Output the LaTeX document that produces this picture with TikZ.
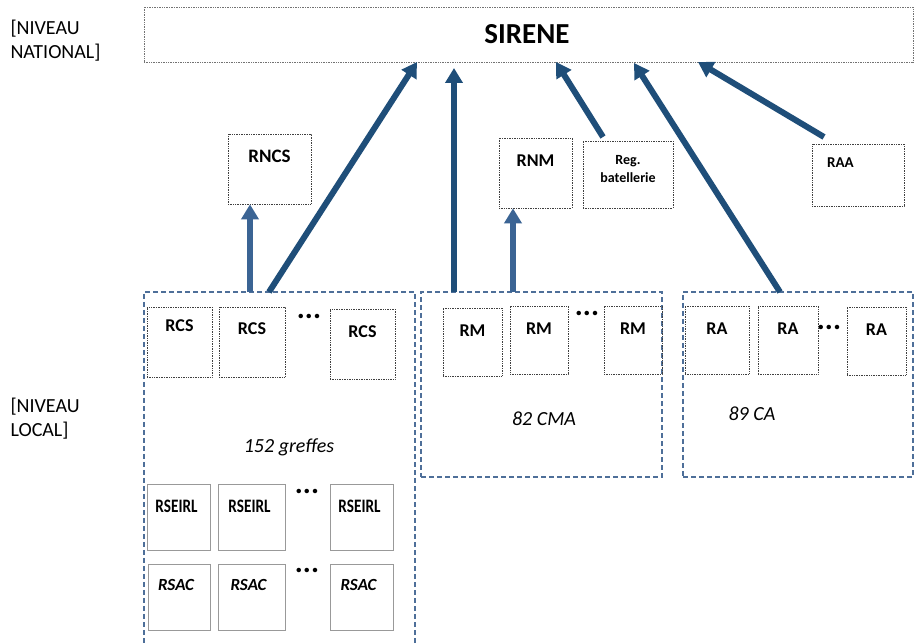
\documentclass[tikz,border=0pt]{standalone}
\usepackage{fontspec}
\setmainfont{Carlito}
\newfontfamily\narrowfont[FakeStretch=0.8]{Carlito}
\usetikzlibrary{arrows.meta}
\definecolor{arrowblue}{HTML}{1F4E79}
\definecolor{lightblue}{HTML}{3B6494}
\definecolor{groupblue}{HTML}{4E6F99}
\tikzset{
  reg/.style={draw=black!75,densely dotted,line width=0.7pt,inner sep=0pt},
  plainreg/.style={draw=black!40,line width=0.8pt,inner sep=0pt},
  group/.style={draw=groupblue,dash pattern=on 5pt off 3pt,line width=1.1pt,inner sep=0pt},
  tag/.style={anchor=north,yshift=-9pt,font=\bfseries\fontsize{18}{20}\selectfont},
  level/.style={anchor=west,align=left,font=\fontsize{20}{24}\selectfont},
  count/.style={font=\itshape\fontsize{20}{24}\selectfont},
  etc/.style={font=\bfseries\fontsize{30}{30}\selectfont,inner sep=0pt},
  flow/.style={->,arrowblue,line width=6pt},
  lightflow/.style={->,lightblue,line width=6.5pt}
}
\begin{document}
\begin{tikzpicture}[x=1pt,y=-1pt,>={Triangle[width=17pt,length=15pt]}]
\useasboundingbox (0,0) rectangle (914,644);

% niveau national
\node[level] (natl) at (7,41) {[NIVEAU\\NATIONAL]};
\node[reg,draw=black!55,minimum width=769pt,minimum height=55pt] (sirene) at (528.5,34.5) {};
\node[font=\bfseries\fontsize{29}{30}\selectfont] (sirenetxt) at (527,34) {SIRENE};

\node[reg,minimum width=83pt,minimum height=70pt,label={[tag,yshift=-4pt,font=\bfseries\fontsize{19}{20}\selectfont]north:RNCS}] (rncs) at (269.5,169) {};
\node[reg,minimum width=73pt,minimum height=70pt,label={[tag,yshift=-5pt]north:RNM}] (rnm) at (535.5,173) {};
\node[reg,minimum width=90pt,minimum height=67pt,
  label={[tag,yshift=-2pt,align=center,font=\bfseries\fontsize{14}{18}\selectfont]north:Reg.\\batellerie}] (regbat) at (628,174.5) {};
\node[reg,minimum width=92pt,minimum height=62pt,
  label={[tag,anchor=north west,xshift=12pt,yshift=-2pt,font=\bfseries\fontsize{15}{18}\selectfont]north west:RAA}] (raa) at (858,175) {};

% niveau local
\node[level] (local) at (7,419) {[NIVEAU\\LOCAL]};

\node[group,minimum width=271pt,minimum height=368pt] (grcs) at (279.5,476) {};
\node[group,minimum width=241pt,minimum height=185pt] (grm) at (541.5,384.5) {};
\node[group,minimum width=230pt,minimum height=185pt] (gra) at (798,384.5) {};

\node[reg,minimum width=65pt,minimum height=70pt,label={[tag,yshift=-1pt]north:RCS}] (rcs1) at (179.5,342) {};
\node[reg,minimum width=66pt,minimum height=70pt,label={[tag,yshift=-4pt]north:RCS}] (rcs2) at (252,342) {};
\node[etc] (rcsdots) at (309,316) {...};
\node[reg,minimum width=65pt,minimum height=70pt,label={[tag,yshift=-5pt]north:RCS}] (rcs3) at (362.5,344) {};

\node[reg,minimum width=59pt,minimum height=68pt,label={[tag,yshift=-5pt]north:RM}] (rm1) at (472.5,342) {};
\node[reg,minimum width=58pt,minimum height=68pt,label={[tag,yshift=-5pt]north:RM}] (rm2) at (539,340) {};
\node[etc] (rmdots) at (587,313) {...};
\node[reg,minimum width=58pt,minimum height=68pt,label={[tag,yshift=-5pt]north:RM}] (rm3) at (633,340) {};

\node[reg,minimum width=64pt,minimum height=68pt,label={[tag,yshift=-5pt]north:RA}] (ra1) at (717,340) {};
\node[reg,minimum width=60pt,minimum height=68pt,label={[tag,yshift=-5pt]north:RA}] (ra2) at (788,340) {};
\node[etc] (radots) at (829,327) {...};
\node[reg,minimum width=59pt,minimum height=68pt,label={[tag,yshift=-5pt]north:RA}] (ra3) at (876.5,341) {};

\node[count] (greffes) at (289,447) {152 greffes};
\node[count] (cma) at (544,419) {82 CMA};
\node[count] (ca) at (752,414) {89 CA};

\node[plainreg,minimum width=63pt,minimum height=66pt,label={[tag,yshift=-4pt,xshift=-2pt,font=\narrowfont\bfseries\fontsize{19}{20}\selectfont]north:RSEIRL}] (rse1) at (178.5,517) {};
\node[plainreg,minimum width=67pt,minimum height=66pt,label={[tag,yshift=-4pt,xshift=-2pt,font=\narrowfont\bfseries\fontsize{19}{20}\selectfont]north:RSEIRL}] (rse2) at (251.5,517) {};
\node[etc] (rsedots) at (307,491) {...};
\node[plainreg,minimum width=63pt,minimum height=66pt,label={[tag,yshift=-4pt,xshift=-2pt,font=\narrowfont\bfseries\fontsize{19}{20}\selectfont]north:RSEIRL}] (rse3) at (361.5,517) {};

\node[plainreg,minimum width=62pt,minimum height=66pt,label={[tag,yshift=-3pt,xshift=-3pt,font=\bfseries\itshape\fontsize{17}{20}\selectfont]north:RSAC}] (rsac1) at (179,597) {};
\node[plainreg,minimum width=67pt,minimum height=66pt,label={[tag,yshift=-3pt,xshift=-3pt,font=\bfseries\itshape\fontsize{17}{20}\selectfont]north:RSAC}] (rsac2) at (251.5,597) {};
\node[etc] (rsacdots) at (307,570) {...};
\node[plainreg,minimum width=63pt,minimum height=66pt,label={[tag,yshift=-3pt,xshift=-3pt,font=\bfseries\itshape\fontsize{17}{20}\selectfont]north:RSAC}] (rsac3) at (361.5,597) {};

% points de depart et d'arrivee des fleches
\coordinate (rcsA) at (250,292);
\coordinate (rcsB) at (269,292);
\coordinate (rmA) at (454,292);
\coordinate (rmB) at (513,292);
\coordinate (raA) at (780,292);
\coordinate (batA) at (603,137);
\coordinate (raaA) at (824,137);
\coordinate (s1) at (417,62);
\coordinate (s2) at (454,62);
\coordinate (s3) at (556,62);
\coordinate (s4) at (634,63);
\coordinate (s5) at (698,62);

\draw[lightflow] (rcsA) -- (rncs.south -| rcsA);
\draw[lightflow] (rmB) -- (rnm.south -| rmB);
\draw[flow] (rcsB) -- (s1);
\draw[flow,shorten >=6pt] (rmA) -- (s2);
\draw[flow] (batA) -- (s3);
\draw[flow] (raA) -- (s4);
\draw[flow] (raaA) -- (s5);
\end{tikzpicture}
\end{document}
